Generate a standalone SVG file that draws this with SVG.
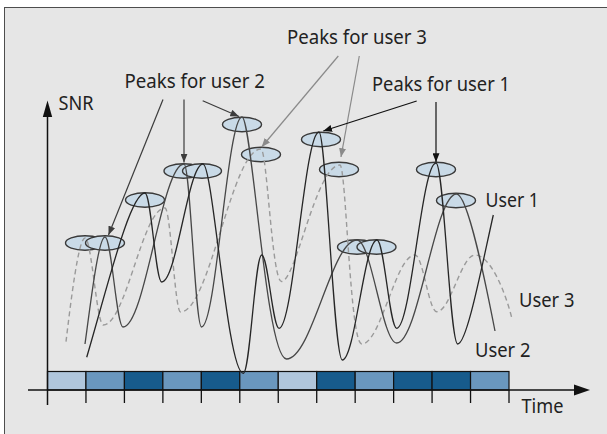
<svg xmlns="http://www.w3.org/2000/svg" width="607" height="434" viewBox="0 0 607 434">
  <style>
    .lbl { font-family: "Noto Sans", "Liberation Sans", sans-serif; font-size: 20px; fill: #222; }
    .slot { stroke: #111; stroke-width: 1.2; }
    .light { fill: #b0c6dc; }
    .mid { fill: #6a97be; }
    .dark { fill: #175b8c; }
    .tick { stroke: #111; stroke-width: 1.3; }
    .peak { fill: #c9dae7; stroke: #3a3a3a; stroke-width: 1.4; }
    .curve { fill: none; stroke-width: 1.3; stroke-linejoin: round; }
    .u1 { stroke: #262626; }
    .u2 { stroke: #474747; }
    .u3 { stroke: #9a9a9a; stroke-dasharray: 5 3.5; stroke-width: 1.4; }
    .ptr { fill: none; stroke-width: 1.2; }
  </style>
  <defs>
    <marker id="head-dark" viewBox="0 0 10 8" refX="10" refY="4" markerWidth="9" markerHeight="7" markerUnits="userSpaceOnUse" orient="auto">
      <path d="M0,0 L10,4 L0,8 z" fill="#3c3c3c"/>
    </marker>
    <marker id="head-grey" viewBox="0 0 10 8" refX="10" refY="4" markerWidth="9" markerHeight="7" markerUnits="userSpaceOnUse" orient="auto">
      <path d="M0,0 L10,4 L0,8 z" fill="#8a8a8a"/>
    </marker>
    <marker id="head-black" viewBox="0 0 10 8" refX="10" refY="4" markerWidth="9" markerHeight="7" markerUnits="userSpaceOnUse" orient="auto">
      <path d="M0,0 L10,4 L0,8 z" fill="#111"/>
    </marker>
  </defs>

  <!-- page and panel -->
  <rect x="0" y="0" width="607" height="434" fill="#ffffff"/>
  <rect id="panel" x="4.5" y="7.5" width="610" height="440" fill="#e6e6e6" stroke="#4d4d4d" stroke-width="1"/>

  <!-- scheduled time slots -->
  <g id="time-slots">
    <rect class="slot light" x="47.5" y="371.5" width="38.46" height="18.5"/>
    <rect class="slot mid" x="85.96" y="371.5" width="38.46" height="18.5"/>
    <rect class="slot dark" x="124.42" y="371.5" width="38.46" height="18.5"/>
    <rect class="slot mid" x="162.88" y="371.5" width="38.46" height="18.5"/>
    <rect class="slot dark" x="201.33" y="371.5" width="38.46" height="18.5"/>
    <rect class="slot mid" x="239.79" y="371.5" width="38.46" height="18.5"/>
    <rect class="slot light" x="278.25" y="371.5" width="38.46" height="18.5"/>
    <rect class="slot dark" x="316.71" y="371.5" width="38.46" height="18.5"/>
    <rect class="slot mid" x="355.17" y="371.5" width="38.46" height="18.5"/>
    <rect class="slot dark" x="393.63" y="371.5" width="38.46" height="18.5"/>
    <rect class="slot dark" x="432.08" y="371.5" width="38.46" height="18.5"/>
    <rect class="slot mid" x="470.54" y="371.5" width="38.46" height="18.5"/>
  </g>

  <!-- axes with slot ticks -->
  <g id="axes">
    <line x1="47.5" y1="405" x2="47.5" y2="115" stroke="#111" stroke-width="1.5"/>
    <polygon points="47.5,100.5 42.8,117 52.2,117" fill="#111"/>
    <line x1="28" y1="390" x2="576" y2="390" stroke="#111" stroke-width="1.5"/>
    <polygon points="590,390 574,384.5 574,395.5" fill="#111"/>
    <line class="tick" x1="85.96" y1="390" x2="85.96" y2="403"/>
    <line class="tick" x1="124.42" y1="390" x2="124.42" y2="403"/>
    <line class="tick" x1="162.88" y1="390" x2="162.88" y2="403"/>
    <line class="tick" x1="201.33" y1="390" x2="201.33" y2="403"/>
    <line class="tick" x1="239.79" y1="390" x2="239.79" y2="403"/>
    <line class="tick" x1="278.25" y1="390" x2="278.25" y2="403"/>
    <line class="tick" x1="316.71" y1="390" x2="316.71" y2="403"/>
    <line class="tick" x1="355.17" y1="390" x2="355.17" y2="403"/>
    <line class="tick" x1="393.63" y1="390" x2="393.63" y2="403"/>
    <line class="tick" x1="432.08" y1="390" x2="432.08" y2="403"/>
    <line class="tick" x1="470.54" y1="390" x2="470.54" y2="403"/>
    <line class="tick" x1="509" y1="390" x2="509" y2="403"/>
  </g>

  <!-- highlighted SNR peaks -->
  <g id="peaks">
    <ellipse id="peak-1" class="peak" cx="85" cy="243" rx="19.5" ry="7.2"/>
    <ellipse id="peak-2" class="peak" cx="105" cy="243" rx="19.5" ry="7.2"/>
    <ellipse id="peak-3" class="peak" cx="145" cy="200" rx="19.5" ry="7.2"/>
    <ellipse id="peak-4" class="peak" cx="183.5" cy="171" rx="19.5" ry="7.2"/>
    <ellipse id="peak-5" class="peak" cx="202" cy="171" rx="19.5" ry="7.2"/>
    <ellipse id="peak-6" class="peak" cx="242" cy="124.5" rx="19.5" ry="7.2"/>
    <ellipse id="peak-7" class="peak" cx="261" cy="154.5" rx="19.5" ry="7.2"/>
    <ellipse id="peak-8" class="peak" cx="321" cy="139.5" rx="19.5" ry="7.2"/>
    <ellipse id="peak-9" class="peak" cx="339" cy="169.5" rx="19.5" ry="7.2"/>
    <ellipse id="peak-10" class="peak" cx="357" cy="247" rx="19.5" ry="7.2"/>
    <ellipse id="peak-11" class="peak" cx="376.5" cy="247" rx="19.5" ry="7.2"/>
    <ellipse id="peak-12" class="peak" cx="436" cy="169.5" rx="19.5" ry="7.2"/>
    <ellipse id="peak-13" class="peak" cx="456" cy="200.5" rx="19.5" ry="7.2"/>
  </g>

  <!-- SNR over time for the three users -->
  <g id="snr-curves">
    <path id="user-3" class="curve u3" d="M66,341.7 C71,300 78.5,238 85,238 C91.6,238 96.7,325 103.3,325 C125.7,325 142.6,208 165,208 C170.6,208 174.9,312 180.5,312 C209.7,312 231.8,149 261,149 C267,149 272,281.5 281.5,281.5 C296,281.5 316,165 340,165 C346,165 350,344 361.7,344 C381,344 395.7,255 415,255 C422.9,255 428.8,311.7 436.7,311.7 C450.6,311.7 461.1,255 475,255 C490,255 505,290 512.3,320"/>
    <path id="user-2" class="curve u2" d="M85,344 C91,300 98.5,237 105,237 C111.5,237 116.5,327 123,327 C145.1,327 161.9,164 184,164 C190.35,164 195.15,327 201.5,327 C216.2,327 227.3,117 242,117 C252,117 266,359 286.5,359 C312.1,359 331.4,240 357,240 C371.4,240 382.3,343 396.7,343 C418.4,343 434.8,194 456.5,194 C468,194 486,285 495,331"/>
    <path id="user-1" class="curve u1" d="M86.7,357.3 C108,285 130,193 145,193 C151.1,193 155.6,282 161.7,282 C176.7,282 188,164 203,164 C213,164 227.3,373.3 243.3,373.3 C250,373.3 255,255 261.7,255 C268,255 272.7,328.3 279,328.3 C293.5,328.3 304.5,132 319,132 C326,132 333.8,360 342.3,360 C354.9,360 364.4,240 377,240 C384.15,240 389.55,328.3 396.7,328.3 C411,328.3 421.7,163 436,163 C443.9,163 449.8,344 457.7,344 C467,344 482,265 493.3,215"/>
  </g>

  <!-- callout pointers -->
  <g id="connectors">
    <path class="ptr" stroke="#3c3c3c" marker-end="url(#head-dark)" d="M163,99.5 L108.5,235"/>
    <path class="ptr" stroke="#3c3c3c" marker-end="url(#head-dark)" d="M184,99.5 L184,162.5"/>
    <path class="ptr" stroke="#3c3c3c" marker-end="url(#head-dark)" d="M202.7,100.7 L239,116.5"/>
    <path class="ptr" stroke="#8a8a8a" marker-end="url(#head-grey)" d="M338.3,56 L261.7,147"/>
    <path class="ptr" stroke="#8a8a8a" marker-end="url(#head-grey)" d="M359.3,56 L341,157"/>
    <path class="ptr" stroke="#111" marker-end="url(#head-black)" d="M416.7,101 L323.3,131"/>
    <path class="ptr" stroke="#111" marker-end="url(#head-black)" d="M436,102 L436,162"/>
  </g>

  <!-- labels -->
  <g id="labels">
    <text class="lbl" x="287" y="43.5" textLength="140" lengthAdjust="spacingAndGlyphs">Peaks for user 3</text>
    <text class="lbl" x="124.5" y="87.7" textLength="140.5" lengthAdjust="spacingAndGlyphs">Peaks for user 2</text>
    <text class="lbl" x="372" y="90.5" textLength="138" lengthAdjust="spacingAndGlyphs">Peaks for user 1</text>
    <text class="lbl" x="58.5" y="109.5" textLength="35" lengthAdjust="spacingAndGlyphs">SNR</text>
    <text class="lbl" x="485.5" y="207" textLength="53.5" lengthAdjust="spacingAndGlyphs">User 1</text>
    <text class="lbl" x="519" y="307" textLength="55.5" lengthAdjust="spacingAndGlyphs">User 3</text>
    <text class="lbl" x="475" y="357" textLength="55.5" lengthAdjust="spacingAndGlyphs">User 2</text>
    <text class="lbl" x="521.5" y="413" textLength="42" lengthAdjust="spacingAndGlyphs">Time</text>
  </g>
</svg>
